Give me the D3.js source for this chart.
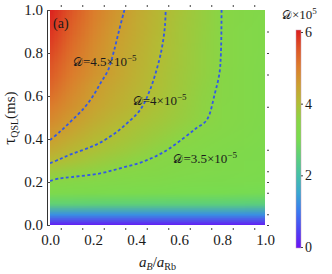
<!DOCTYPE html>
<html>
<head>
<meta charset="utf-8">
<script src="https://cdn.jsdelivr.net/npm/d3@7/dist/d3.min.js"></script>
<style>
body { margin: 0; background: #fff; }
</style>
</head>
<body>
<div id="chart"></div>
<script>
var xTicks = [0, 0.2, 0.4, 0.6, 0.8, 1.0];
var yTicks = [0, 0.2, 0.4, 0.6, 0.8, 1.0];
var minorTicks = [0.05, 0.15, 0.25, 0.35, 0.45, 0.55, 0.65, 0.75, 0.85, 0.95];
var rightTicks = [0.9, 0.8, 0.7, 0.55, 0.35, 0.25, 0.2, 0.15, 0.05, 0.0];
var barTicks = [0, 2, 4, 6];

// density D x 10^5, rows go up in tau, columns go right in aB/aRb
var gridX = [0, 0.1, 0.2, 0.3, 0.4, 0.5, 0.6, 0.7, 0.8, 0.9, 1.0];
var gridTau = [0, 0.05, 0.1, 0.15, 0.2, 0.25, 0.3, 0.35, 0.4, 0.45, 0.5,
               0.55, 0.6, 0.65, 0.7, 0.75, 0.8, 0.85, 0.9, 0.95, 1.0];
var density = [
  [0.1, 0.1, 0.1, 0.1, 0.1, 0.1, 0.1, 0.1, 0.1, 0.1, 0.1],
  [1.25, 1.25, 1.25, 1.25, 1.25, 1.25, 1.25, 1.25, 1.25, 1.25, 1.25],
  [2.6, 2.6, 2.59, 2.58, 2.57, 2.56, 2.55, 2.54, 2.53, 2.52, 2.5],
  [3.2, 3.17, 3.14, 3.11, 3.08, 3.06, 3.04, 3.02, 3.0, 2.98, 2.96],
  [3.47, 3.42, 3.37, 3.32, 3.28, 3.24, 3.2, 3.17, 3.14, 3.11, 3.08],
  [3.75, 3.66, 3.58, 3.5, 3.44, 3.38, 3.32, 3.27, 3.22, 3.18, 3.14],
  [4.05, 3.9, 3.77, 3.66, 3.55, 3.46, 3.38, 3.31, 3.25, 3.2, 3.15],
  [4.3, 4.1, 3.94, 3.81, 3.69, 3.56, 3.44, 3.36, 3.29, 3.23, 3.17],
  [4.5, 4.27, 4.06, 3.93, 3.8, 3.67, 3.53, 3.43, 3.35, 3.28, 3.2],
  [4.68, 4.43, 4.2, 4.02, 3.88, 3.76, 3.63, 3.51, 3.4, 3.3, 3.22],
  [4.85, 4.57, 4.33, 4.13, 3.98, 3.84, 3.7, 3.57, 3.45, 3.33, 3.23],
  [5.0, 4.7, 4.44, 4.24, 4.06, 3.9, 3.74, 3.58, 3.45, 3.33, 3.24],
  [5.15, 4.8, 4.51, 4.29, 4.1, 3.93, 3.77, 3.6, 3.46, 3.34, 3.24],
  [5.28, 4.9, 4.56, 4.35, 4.15, 3.96, 3.79, 3.62, 3.47, 3.34, 3.25],
  [5.4, 5.0, 4.68, 4.42, 4.19, 3.98, 3.8, 3.64, 3.48, 3.35, 3.25],
  [5.5, 5.07, 4.72, 4.45, 4.21, 4.0, 3.82, 3.65, 3.49, 3.36, 3.26],
  [5.6, 5.15, 4.77, 4.47, 4.23, 4.02, 3.83, 3.65, 3.49, 3.36, 3.27],
  [5.7, 5.22, 4.83, 4.5, 4.26, 4.03, 3.84, 3.66, 3.49, 3.37, 3.28],
  [5.8, 5.3, 4.9, 4.55, 4.3, 4.06, 3.85, 3.67, 3.49, 3.37, 3.28],
  [5.88, 5.38, 4.95, 4.6, 4.32, 4.08, 3.86, 3.68, 3.5, 3.38, 3.29],
  [5.95, 5.45, 5.0, 4.65, 4.35, 4.1, 3.88, 3.69, 3.5, 3.38, 3.3]
];

var colorStops = [0, 0.5, 1, 1.5, 2, 2.5, 3, 3.5, 4, 4.5, 5, 5.5, 6];
var colorValues = ["#6a12f5", "#4c44f4", "#3a7af0", "#3aa6d2", "#45c0a8", "#5ccf7c", "#78dc50",
                   "#88d646", "#b2bd35", "#cc9f30", "#dc7d2c", "#de5426", "#dc1e1e"];

// contour lines [aB/aRb, tau]
var contour45 = [[0, 0.395], [0.05, 0.437], [0.1, 0.485], [0.155, 0.54], [0.2, 0.6],
                 [0.235, 0.66], [0.27, 0.72], [0.295, 0.8], [0.32, 0.9], [0.346, 1.0]];
var contour40 = [[0, 0.287], [0.047, 0.307], [0.1, 0.33], [0.17, 0.355], [0.233, 0.383],
                 [0.3, 0.425], [0.36, 0.475], [0.419, 0.535], [0.465, 0.628], [0.508, 0.767],
                 [0.525, 0.85], [0.535, 0.93], [0.538, 1.0]];
var contour35 = [[0, 0.205], [0.047, 0.217], [0.1, 0.223], [0.233, 0.24], [0.33, 0.265],
                 [0.434, 0.295], [0.53, 0.34], [0.62, 0.403], [0.68, 0.45], [0.729, 0.488],
                 [0.767, 0.613], [0.788, 0.705], [0.795, 0.8], [0.798, 1.0]];
var contourLabels = [
  {level: "4.5", at: [0.107, 0.74]},
  {level: "4", at: [0.385, 0.558]},
  {level: "3.5", at: [0.574, 0.29]}
];

var w = 332, h = 274;
var serif = "'Liberation Serif', 'Times New Roman', Times, serif";
var x = d3.scaleLinear().domain([0, 1]).range([50, 265]);
var y = d3.scaleLinear().domain([0, 1]).range([225, 10]);
var color = d3.scaleLinear().domain(colorStops).range(colorValues);
var cy = d3.scaleLinear().domain([0, 6]).range([247, 32]);

var svg = d3.select("#chart").append("svg")
    .attr("width", w)
    .attr("height", h);

svg.append("rect").attr("width", w).attr("height", h).attr("fill", "#fff");

// heatmap: one canvas pixel per grid value, smoothed by the browser when scaled
var canvas = document.createElement("canvas");
canvas.width = gridX.length;
canvas.height = gridTau.length;
var ctx = canvas.getContext("2d");
density.forEach(function(row, j) {
    row.forEach(function(v, i) {
        ctx.fillStyle = color(v);
        ctx.fillRect(i, gridTau.length - 1 - j, 1, 1);
    });
});
var hx = (gridX[1] - gridX[0]) / 2, hy = (gridTau[1] - gridTau[0]) / 2;

var defs = svg.append("defs");
defs.append("clipPath").attr("id", "plot-clip").append("rect")
    .attr("x", x(0)).attr("y", y(1))
    .attr("width", x(1) - x(0)).attr("height", y(0) - y(1));

svg.append("image")
    .attr("href", canvas.toDataURL())
    .attr("x", x(gridX[0] - hx))
    .attr("y", y(gridTau[gridTau.length - 1] + hy))
    .attr("width", x(gridX[gridX.length - 1] + hx) - x(gridX[0] - hx))
    .attr("height", y(gridTau[0] - hy) - y(gridTau[gridTau.length - 1] + hy))
    .attr("preserveAspectRatio", "none")
    .attr("clip-path", "url(#plot-clip)");

// contours
var line = d3.line().x(function(d) { return x(d[0]); }).y(function(d) { return y(d[1]); })
    .curve(d3.curveCatmullRom);
[contour45, contour40, contour35].forEach(function(c) {
    svg.append("path").attr("d", line(c))
        .attr("fill", "none").attr("stroke", "#3358e6")
        .attr("stroke-width", 1.8).attr("stroke-dasharray", "3,2.4")
        .attr("clip-path", "url(#plot-clip)");
});

contourLabels.forEach(function(l) {
    var t = svg.append("text").attr("x", x(l.at[0])).attr("y", y(l.at[1])).attr("font-size", 13);
    t.append("tspan").text("\uD835\uDC9F").attr("font-family", "DejaVu Serif, serif").attr("font-size", 12);
    t.append("tspan").text("=" + l.level + "\u00D710");
    t.append("tspan").text("\u22125").attr("font-size", 9).attr("dy", -5);
});

svg.append("text").attr("x", 53).attr("y", 28).attr("font-size", 14).text("(a)");

// left axis
var yAxis = svg.append("g").attr("transform", "translate(47,0)")
    .call(d3.axisLeft(y).tickValues(yTicks).tickFormat(d3.format(".1f"))
        .tickSizeInner(-3).tickSizeOuter(0).tickPadding(4));
yAxis.selectAll("text").attr("font-size", 15);
yAxis.select(".domain").attr("stroke", "#333");

// bottom labels and small ticks
var xLabels = svg.append("g").attr("transform", "translate(0,225)")
    .call(d3.axisBottom(x).tickValues(xTicks).tickFormat(d3.format(".1f"))
        .tickSize(0).tickPadding(9));
xLabels.select(".domain").remove();
xLabels.selectAll("text").attr("font-size", 15);

var xMinor = svg.append("g").attr("transform", "translate(0,228)")
    .call(d3.axisBottom(x).tickValues(minorTicks).tickFormat("").tickSize(2));
xMinor.select(".domain").remove();

var topMinor = svg.append("g").attr("transform", "translate(0,7)")
    .call(d3.axisTop(x).tickValues(minorTicks).tickFormat("").tickSize(2));
topMinor.select(".domain").remove();

var rightMinor = svg.append("g").attr("transform", "translate(267,0)")
    .call(d3.axisRight(y).tickValues(rightTicks).tickFormat("").tickSize(2));
rightMinor.select(".domain").remove();

// axis titles
var yTitle = svg.append("text").attr("transform", "translate(15,118) rotate(-90)")
    .attr("text-anchor", "middle");
yTitle.append("tspan").text("\u03C4").attr("font-size", 17);
yTitle.append("tspan").text("QSL").attr("font-size", 10).attr("dy", 3);
yTitle.append("tspan").text("(ms)").attr("font-size", 15).attr("dy", -3);

var xTitle = svg.append("text").attr("x", (x(0) + x(1)) / 2).attr("y", 267)
    .attr("text-anchor", "middle").attr("font-size", 15);
xTitle.append("tspan").text("a").attr("font-style", "italic");
xTitle.append("tspan").text("B").attr("font-style", "italic").attr("font-size", 10).attr("dy", 3);
xTitle.append("tspan").text("/").attr("dy", -3);
xTitle.append("tspan").text("a").attr("font-style", "italic");
xTitle.append("tspan").text("Rb").attr("font-size", 10).attr("dy", 3);

// colour bar
var grad = defs.append("linearGradient").attr("id", "bar-grad")
    .attr("x1", 0).attr("y1", 1).attr("x2", 0).attr("y2", 0);
grad.selectAll("stop").data(colorStops).enter().append("stop")
    .attr("offset", function(d) { return d / 6; })
    .attr("stop-color", function(d) { return color(d); });

svg.append("rect").attr("x", 296).attr("y", cy(6) - 2).attr("width", 5)
    .attr("height", cy(0) - cy(6) + 3).attr("fill", "url(#bar-grad)")
    .attr("stroke", "#c9a0b4").attr("stroke-width", 0.5);

var bar = svg.append("g").attr("transform", "translate(301,0)")
    .call(d3.axisRight(cy).tickValues(barTicks).tickFormat(d3.format("d")).tickSize(2).tickPadding(2));
bar.select(".domain").remove();
bar.selectAll("text").attr("font-size", 14);

var barTitle = svg.append("text").attr("x", 282).attr("y", 19).attr("font-size", 13);
barTitle.append("tspan").text("\uD835\uDC9F").attr("font-family", "DejaVu Serif, serif").attr("font-size", 12);
barTitle.append("tspan").text("\u00D710");
barTitle.append("tspan").text("5").attr("font-size", 9).attr("dy", -5);

svg.selectAll("g").attr("font-family", null);
svg.selectAll(".tick line").attr("stroke", "#444");
svg.selectAll("text").each(function() {
    if (!d3.select(this).attr("font-family")) d3.select(this).attr("font-family", serif);
});
svg.selectAll("text").attr("fill", "#1a1a1a");
</script>
</body>
</html>
